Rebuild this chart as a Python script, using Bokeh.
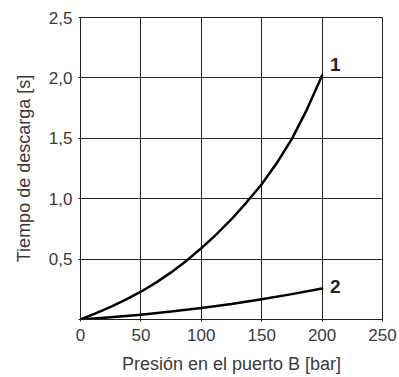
from bokeh.plotting import figure
from bokeh.models import Range1d, FixedTicker, ColumnDataSource
from bokeh.core.properties import value
from bokeh.embed import file_html
from bokeh.resources import INLINE

# Data
pressure_1 = [0, 12.5, 25, 37.5, 50, 62.5, 75, 87.5, 100, 112.5, 125, 137.5,
              150, 162.5, 175, 187.5, 200]
time_1 = [0, 0.05, 0.105, 0.165, 0.23, 0.305, 0.39, 0.485, 0.59, 0.705, 0.83, 0.97,
          1.12, 1.295, 1.495, 1.74, 2.02]
pressure_2 = [0, 25, 50, 75, 100, 125, 150, 175, 200]
time_2 = [0, 0.018, 0.04, 0.066, 0.095, 0.128, 0.168, 0.21, 0.256]
curve_labels = ["1", "2"]
x_ticks = [0, 50, 100, 150, 200, 250]
y_ticks = [0, 0.5, 1.0, 1.5, 2.0, 2.5]
y_tick_labels = ["", "0,5", "1,0", "1,5", "2,0", "2,5"]
x_title = "Presión en el puerto B [bar]"
y_title = "Tiempo de descarga [s]"

FONT = "Liberation Sans"
TXT = "#3a3a3a"

p = figure(width=399, height=377, output_backend="svg", toolbar_location=None,
           x_range=Range1d(0, 250), y_range=Range1d(0, 2.5))
p.min_border_left = 80
p.min_border_right = 17
p.min_border_top = 17
p.min_border_bottom = 58
p.background_fill_color = "white"
p.border_fill_color = "white"
p.outline_line_color = "#222222"
p.outline_line_width = 1

for ax in (p.xaxis[0], p.yaxis[0]):
    ax.axis_line_color = "#222222"
    ax.major_tick_line_color = "#222222"
    ax.major_tick_out = 2
    ax.major_tick_in = 0
    ax.minor_tick_line_color = None
    ax.major_label_text_font = FONT
    ax.major_label_text_font_size = "17px"
    ax.major_label_text_color = TXT
    ax.axis_label_text_font = FONT
    ax.axis_label_text_font_size = "18px"
    ax.axis_label_text_font_style = "normal"
    ax.axis_label_text_color = TXT

p.xaxis.ticker = FixedTicker(ticks=x_ticks)
p.yaxis.ticker = FixedTicker(ticks=y_ticks)
p.yaxis.major_label_overrides = {t: l for t, l in zip(y_ticks, y_tick_labels)}
p.xaxis.axis_label = x_title
p.yaxis.axis_label = y_title
p.xaxis.major_label_standoff = 7
p.xaxis.axis_label_standoff = 10
p.yaxis.major_label_standoff = 6
p.yaxis.axis_label_standoff = 12

p.xgrid.ticker = FixedTicker(ticks=x_ticks)
p.ygrid.ticker = FixedTicker(ticks=y_ticks)
p.grid.grid_line_color = "#222222"
p.grid.grid_line_width = 1
p.grid.grid_line_alpha = 1

p.line(pressure_1, time_1, line_color="black", line_width=2.5, line_join="round", line_cap="round")
p.line(pressure_2, time_2, line_color="black", line_width=2.5, line_join="round", line_cap="round")

src = ColumnDataSource(dict(x=[pressure_1[-1], pressure_2[-1]],
                            y=[time_1[-1], time_2[-1]],
                            t=curve_labels,
                            yo=[-11, -2]))
p.text(x="x", y="y", text="t", source=src, x_offset=8, y_offset="yo",
       text_font=value(FONT), text_font_style="bold", text_font_size="19px",
       text_color="#222222", text_align="left", text_baseline="middle")

open("out.html", "w").write(file_html(p, INLINE))
